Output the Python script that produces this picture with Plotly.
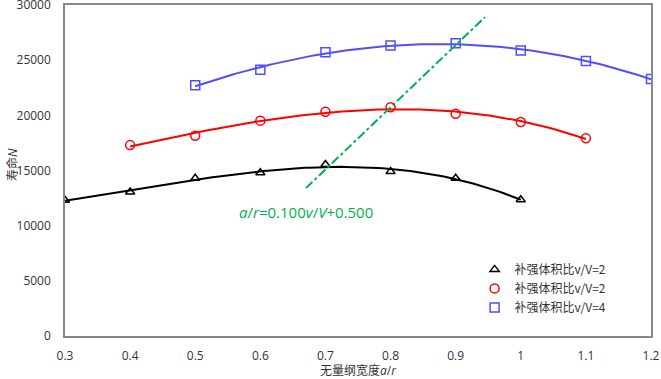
import numpy as np
import plotly.graph_objects as go

# data
x_black = [0.3, 0.4, 0.5, 0.6, 0.7, 0.8, 0.9, 1.0]
y_black = [12300, 13050, 14300, 14800, 15550, 14900, 14300, 12350]
x_red = [0.4, 0.5, 0.6, 0.7, 0.8, 0.9, 1.0, 1.1]
y_red = [17300, 18150, 19520, 20330, 20730, 20150, 19400, 17920]
x_blue = [0.5, 0.6, 0.7, 0.8, 0.9, 1.0, 1.1, 1.2]
y_blue = [22730, 24140, 25720, 26340, 26530, 25870, 24930, 23300]
line_x = [0.67, 0.945]
line_y = [13400, 28900]
names = ["补强体积比v/V=2", "补强体积比v/V=2", "补强体积比v/V=4"]
x_ticks = [0.3, 0.4, 0.5, 0.6, 0.7, 0.8, 0.9, 1.0, 1.1, 1.2]
x_tick_text = ["0.3", "0.4", "0.5", "0.6", "0.7", "0.8", "0.9", "1", "1.1", "1.2"]
y_ticks = [0, 5000, 10000, 15000, 20000, 25000, 30000]

fig = go.Figure()

series = [
    (x_black, y_black, "#000000", "triangle-up-open", 8, names[0]),
    (x_red, y_red, "#FF0000", "circle-open", 9, names[1]),
    (x_blue, y_blue, "#4F4FFF", "square-open", 9, names[2]),
]

for xs, ys, col, sym, sz, nm in series:
    coef = np.polyfit(xs, ys, 3)
    xf = np.linspace(min(xs), max(xs), 100)
    yf = np.polyval(coef, xf)
    fig.add_trace(go.Scatter(x=xf, y=yf, mode="lines", line=dict(color=col, width=2),
                             showlegend=False, hoverinfo="skip"))

for xs, ys, col, sym, sz, nm in series:
    fig.add_trace(go.Scatter(x=xs, y=ys, mode="markers", name=nm,
                             marker=dict(symbol=sym, size=sz, color=col,
                                         line=dict(color=col, width=1.5))))

fig.add_trace(go.Scatter(x=line_x, y=line_y, mode="lines",
                         line=dict(color="#00B050", width=2, dash="dashdot"),
                         showlegend=False))

fig.add_annotation(x=0.3 + (237 - 65) / 651.1, y=(336 - 212) / 0.011033, xref="x", yref="y",
                   text="<i>a</i>/<i>r</i>=0.100<i>v</i>/<i>V</i>+0.500",
                   showarrow=False, xanchor="left", yanchor="middle",
                   font=dict(family="Open Sans, Noto Sans", size=15, color="#00B050"))

# axis titles
fig.add_annotation(x=(358 - 65) / 586, y=-(370 - 336) / 331, xref="paper", yref="paper",
                   text="无量纲宽度<i>a</i>/<i>r</i>", showarrow=False,
                   xanchor="center", yanchor="middle",
                   font=dict(size=12, color="#333333"))
fig.add_annotation(x=-(65 - 12) / 586, y=(336 - 165) / 331, xref="paper", yref="paper",
                   text="寿命<i>N</i>", showarrow=False, textangle=-90,
                   xanchor="center", yanchor="middle",
                   font=dict(size=12, color="#333333"))

fig.update_layout(
    width=661, height=379,
    margin=dict(l=65, r=10, t=5, b=43),
    paper_bgcolor="white", plot_bgcolor="white",
    font=dict(family="Open Sans, Noto Sans CJK SC", size=12, color="#333333"),
    legend=dict(x=0.699, y=0.245, xanchor="left", yanchor="top",
                bgcolor="rgba(0,0,0,0)",
                font=dict(family="Noto Sans CJK SC", size=12, color="#333333"),
                itemwidth=30, tracegroupgap=0),
    xaxis=dict(range=[0.3, 1.2], tickvals=x_ticks, ticktext=x_tick_text,
               showgrid=False, zeroline=False, showline=True, linecolor="#888888",
               linewidth=1.5, mirror=True, ticks="", automargin=False,
               ticklabelstandoff=8, ticklabeloverflow="allow"),
    yaxis=dict(range=[0, 30000], tickvals=y_ticks, tickformat="d",
               showgrid=False, zeroline=False, showline=True, linecolor="#888888",
               linewidth=1.5, mirror=True, ticks="", automargin=False,
               ticklabelstandoff=10, ticklabeloverflow="allow"),
)

fig.write_html("out.html", post_script="document.body.style.margin='0px';",
               config={"displayModeBar": False})
